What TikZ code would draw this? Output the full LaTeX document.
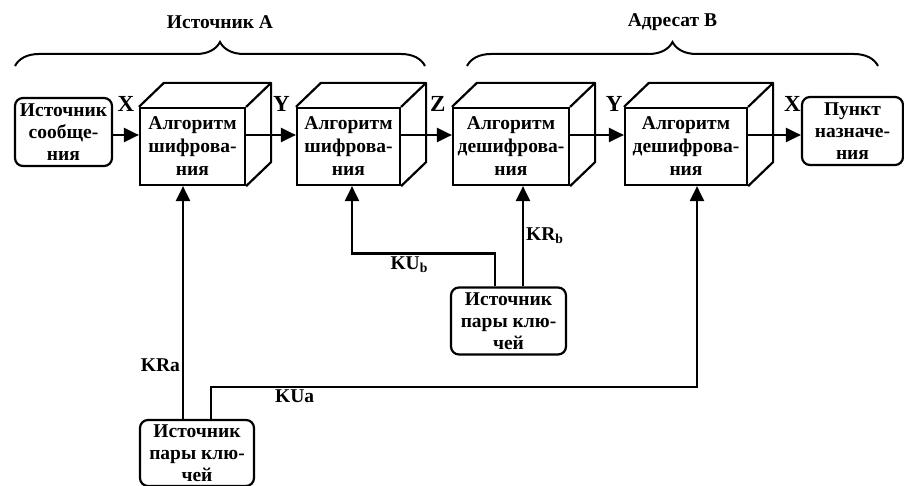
\documentclass[tikz,border=0pt]{standalone}
\usepackage{fontspec}
\setmainfont{Liberation Serif}
\usetikzlibrary{arrows.meta,positioning,calc,decorations.pathreplacing}

\tikzset{
  blk/.style={draw, line width=2.2pt, rounded corners=8pt, align=center, inner sep=1pt,
    font=\bfseries\fontsize{19.5}{22}\selectfont},
  face/.style={draw, line width=2.2pt, align=center, inner sep=1pt, minimum height=77pt,
    font=\bfseries\fontsize{19.5}{23}\selectfont},
  edge/.style={line width=2.2pt, line join=round},
  arr/.style={-{Triangle[length=15pt,width=14pt]}, line width=2.2pt},
  lbl/.style={font=\bfseries\fontsize{19.5}{22}\selectfont, inner sep=2pt},
  sig/.style={font=\bfseries\fontsize{23}{24}\selectfont, inner sep=0pt},
  brc/.style={decorate, decoration={brace, amplitude=24pt}, line width=2pt},
}

\begin{document}
\begin{tikzpicture}[x=1pt, y=-1pt]
    \useasboundingbox (0,0) rectangle (904,486);

    % Braces
    \draw[brc] (15,66) -- (425,66) node[lbl, midway, yshift=44pt] (srcA) {Источник А};
    \draw[brc] (467,66) -- (878,66) node[lbl, midway, yshift=44pt] (dstB) {Адресат В};

    % Nodes
    \node[blk, minimum width=97pt, minimum height=68pt] (src) at (63.5,132) {Источник\\сообще-\\ния};
    \node[face, minimum width=105pt] (encA) at (192.5,146.5) {Алгоритм\\шифрова-\\ния};
    \node[face, minimum width=103pt] (encB) at (348.5,146.5) {Алгоритм\\шифрова-\\ния};
    \node[face, minimum width=116pt] (decA) at (511,146.5) {Алгоритм\\дешифрова-\\ния};
    \node[face, minimum width=122pt] (decB) at (686,146.5) {Алгоритм\\дешифрова-\\ния};
    \node[blk, minimum width=101pt, minimum height=68pt] (dst) at (852.5,131) {Пункт\\назначе-\\ния};

    \node[blk, minimum width=114pt, minimum height=66pt] (keyA) at (197,453) {Источник\\пары клю-\\чей};
    \node[blk, minimum width=115pt, minimum height=67pt] (keyB) at (508.5,321) {Источник\\пары клю-\\чей};

    % Cube sides
    \foreach \c in {encA,encB,decA,decB}{
      \draw[edge] (\c.north west) -- ++(25,-24) -| ([shift={(25,-24)}]\c.south east) -- (\c.south east);
      \draw[edge] (\c.north east) -- ++(25,-24);
    }

    % Edges
    \coordinate (row) at (0,135);
    \draw[arr] (src.east |- row) -- (encA.west |- row) node[sig, pos=.5, yshift=31pt] {X};
    \draw[arr] (encA.east |- row) -- (encB.west |- row) node[sig, pos=.71, yshift=31pt] {Y};
    \draw[arr] (encB.east |- row) -- (decA.west |- row) node[sig, pos=.72, yshift=31pt] {Z};
    \draw[arr] (decA.east |- row) -- (decB.west |- row) node[sig, pos=.82, yshift=31pt] {Y};
    \draw[arr] (decB.east |- row) -- (dst.west |- row) node[sig, pos=.84, yshift=31pt] {X};

    % Keys
    \coordinate (kra) at ([xshift=-9.5pt]encA.south);
    \coordinate (kua) at ([xshift=11pt]decB.south);
    \coordinate (kub) at ([xshift=3.5pt]encB.south);
    \coordinate (krb) at ([xshift=12pt]decA.south);

    \draw[arr] (keyA.north -| kra) -- (kra) node[lbl, pos=.23, left] {KRa};
    \draw[arr] ([xshift=14pt]keyA.north) -- ++(0,-32) -| (kua) node[lbl, pos=.086, below] {KUa};
    \draw[arr] (keyB.north -| krb) -- (krb) node[lbl, pos=.51, right] {KR\textsubscript{b}};
    \draw[arr] ([xshift=-13.5pt]keyB.north) -- ++(0,-33) -| (kub) node[lbl, pos=.3, below] {KU\textsubscript{b}};
\end{tikzpicture}
\end{document}
